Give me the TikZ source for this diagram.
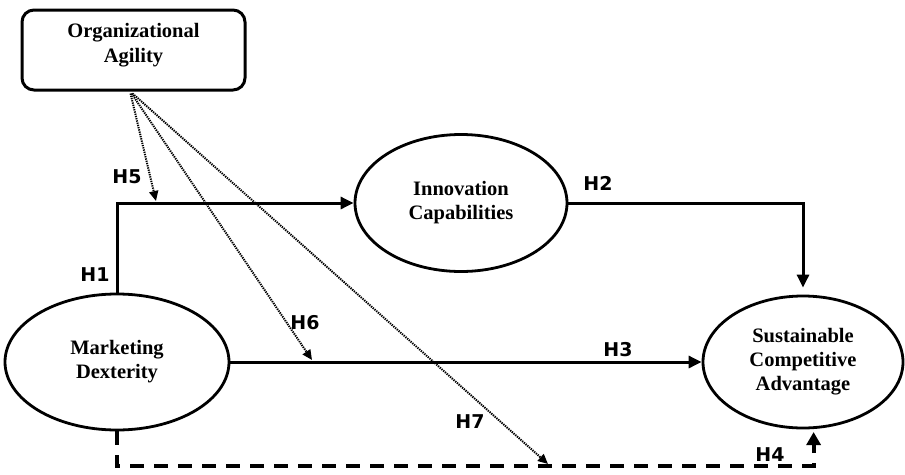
\documentclass[tikz,border=0pt]{standalone}
\usepackage{fontspec}
\setmainfont{Liberation Serif}
\newfontfamily\hlabelfont{DejaVu Sans}
\usetikzlibrary{shapes.geometric,arrows.meta,calc}

\begin{document}
\begin{tikzpicture}[x=1pt,y=-1pt,
  construct/.style={draw, line width=2.8pt, ellipse, inner sep=0pt,
    align=center, font=\fontsize{20.5}{24}\selectfont\bfseries},
  agilitybox/.style={draw, line width=3pt, rectangle, rounded corners=12pt,
    minimum width=223pt, minimum height=80pt, inner sep=0pt},
  boxtext/.style={align=center, inner sep=0pt,
    font=\fontsize{20.5}{24.5}\selectfont\bfseries},
  hyp/.style={font=\hlabelfont\fontsize{19}{21}\selectfont\bfseries, inner sep=0pt},
  path/.style={line width=3pt, -{Triangle[length=13pt,width=12pt]}},
  moderation/.style={line width=2pt, dash pattern=on 1.3pt off 1pt,
    -{Triangle[length=10pt,width=9pt]}},
  mediation/.style={line width=4pt, dash pattern=on 14pt off 10pt,
    -{Triangle[length=13pt,width=14pt]}}
]
\useasboundingbox (0,0) rectangle (905,474);

% constructs
\node[agilitybox] (oa) at (133.5,50) {};
\node[boxtext] (oatext) at (133.5,45) {Organizational\\Agility};
\node[construct, minimum width=212pt, minimum height=137pt] (ic) at (461,203) {Innovation\\Capabilities};
\node[construct, minimum width=224pt, minimum height=136pt] (md) at (117,362) {Marketing\\Dexterity};
\node[construct, minimum width=200pt, minimum height=132pt] (sca) at (803,362) {Sustainable\\Competitive\\Advantage};

% direct paths
\draw[path] (md.north) |- (ic.west);
\draw[path, shorten >=7pt] (ic.east) -| (sca.north);
\draw[path] (md.east) -- (sca.west);

% mediated path through the bottom
\coordinate (h4turn) at (117,466);
\draw[mediation, shorten >=3pt] (md.south) -- (h4turn) -| (sca.-81);

% moderating effects of organizational agility
\coordinate (h5end) at (156,201);
\coordinate (h6end) at (312,360);
\coordinate (h7end) at (548,464);
\draw[moderation] ($(oa.south)+(-3,2)$) -- (h5end);
\draw[moderation] ($(oa.south)+(-2,2)$) -- (h6end);
\draw[moderation] ($(oa.south)+(-1,2)$) -- (h7end);

% hypothesis labels
\node[hyp] (lh1) at (95,275) {H1};
\node[hyp] (lh2) at (598,183) {H2};
\node[hyp] (lh3) at (618,350) {H3};
\node[hyp] (lh4) at (770,455) {H4};
\node[hyp] (lh5) at (127,177) {H5};
\node[hyp] (lh6) at (305,323) {H6};
\node[hyp] (lh7) at (470,422) {H7};
\end{tikzpicture}
\end{document}
